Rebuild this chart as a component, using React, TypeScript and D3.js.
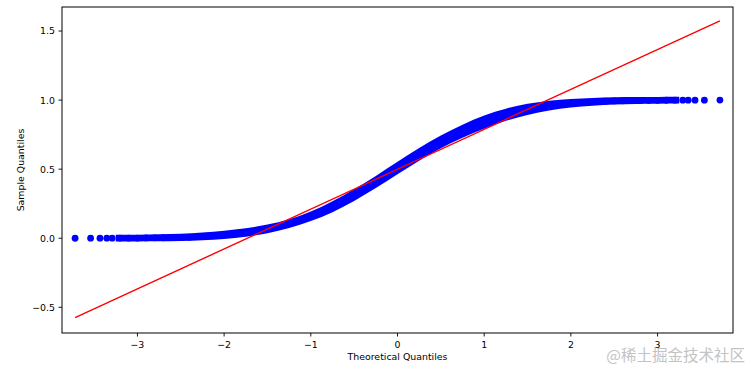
import React from "react";
import * as d3 from "d3";

// Theoretical quantiles (x) and sample quantiles (y) of the scatter points
const pointX = [
  -3.719, -3.54, -3.432, -3.353, -3.291,
  -3.2, -3.1, -3.0, -2.9, -2.8, -2.7, -2.6, -2.5, -2.4, -2.3, -2.2, -2.1, -2.0,
  -1.9, -1.8, -1.7, -1.6, -1.5, -1.4, -1.3, -1.2, -1.1, -1.0, -0.9, -0.8, -0.7,
  -0.6, -0.5, -0.4, -0.3, -0.2, -0.1, 0.0, 0.1, 0.2, 0.3, 0.4, 0.5, 0.6, 0.7,
  0.8, 0.9, 1.0, 1.1, 1.2, 1.3, 1.4, 1.5, 1.6, 1.7, 1.8, 1.9, 2.0, 2.1, 2.2,
  2.3, 2.4, 2.5, 2.6, 2.7, 2.8, 2.9, 3.0, 3.1, 3.2,
  3.291, 3.353, 3.432, 3.54, 3.719,
];
const pointY = [
  0.0001, 0.0002, 0.0003, 0.0004, 0.0005,
  0.001, 0.0012, 0.0015, 0.002, 0.0027, 0.0037, 0.005, 0.006, 0.008, 0.011, 0.015, 0.019, 0.025,
  0.031, 0.038, 0.047, 0.057, 0.068, 0.083, 0.098, 0.117, 0.137, 0.159, 0.184, 0.212, 0.243,
  0.276, 0.312, 0.35, 0.388, 0.428, 0.468, 0.508, 0.548, 0.588, 0.625, 0.661, 0.697, 0.729, 0.76,
  0.789, 0.816, 0.841, 0.864, 0.885, 0.903, 0.919, 0.933, 0.945, 0.955, 0.964, 0.971, 0.977, 0.982, 0.986,
  0.989, 0.992, 0.994, 0.995, 0.9965, 0.9974, 0.998, 0.9985, 0.999, 0.9993,
  0.9995, 0.9996, 0.9997, 0.9998, 0.9999,
];

// Extent of the dense cloud of overlapping markers
const bandX = [
  -3.25, -3.0, -2.75, -2.5, -2.25, -2.0, -1.75, -1.5, -1.25, -1.0, -0.75, -0.5, -0.25,
  0, 0.25, 0.5, 0.75, 1.0, 1.25, 1.5, 1.75, 2.0, 2.25, 2.5, 2.75, 3.0, 3.25,
];
const bandLow = [
  -0.0236, -0.0231, -0.022, -0.02, -0.015, -0.005, 0.0115, 0.037, 0.075, 0.125, 0.189, 0.27, 0.363,
  0.463, 0.561, 0.651, 0.728, 0.793, 0.85, 0.893, 0.924, 0.946, 0.96, 0.968, 0.972, 0.9739, 0.9748,
];
const bandHigh = [
  0.0256, 0.0261, 0.028, 0.032, 0.041, 0.055, 0.0725, 0.099, 0.137, 0.193, 0.267, 0.354, 0.451,
  0.553, 0.653, 0.743, 0.822, 0.889, 0.938, 0.973, 0.996, 1.008, 1.016, 1.02, 1.022, 1.0231, 1.024,
];

// Reference line of the Q-Q plot
const lineX = [-3.719, 3.719];
const lineY = [-0.574, 1.574];

const xTicks = [-3, -2, -1, 0, 1, 2, 3];
const yTicks = [-0.5, 0.0, 0.5, 1.0, 1.5];
const yTickLabels = ["−0.5", "0.0", "0.5", "1.0", "1.5"];
const xTickLabels = ["−3", "−2", "−1", "0", "1", "2", "3"];

const W = 750;
const H = 367;
const L = 62;
const R = 733;
const T = 7;
const B = 333;

export default function App() {
  const x = d3.scaleLinear().domain([-3.87, 3.87]).range([L, R]);
  const y = d3.scaleLinear().domain([-0.686, 1.674]).range([B, T]);

  const area = d3
    .area<number>()
    .x((_, i) => x(bandX[i]))
    .y0((_, i) => y(bandLow[i]))
    .y1((_, i) => y(bandHigh[i]))
    .curve(d3.curveMonotoneX);

  const line = d3
    .line<number>()
    .x((_, i) => x(lineX[i]))
    .y((_, i) => y(lineY[i]));

  const font = "'DejaVu Sans', sans-serif";
  const fs = 9.4;

  return (
    <div style={{ position: "fixed", left: 0, top: 0, width: W, height: H, background: "#fff" }}>
      <svg width={W} height={H} style={{ display: "block" }}>
        <rect x={0} y={0} width={W} height={H} fill="#fff" />
        <path d={area(bandX) || ""} fill="#0000ff" />
        {pointX.map((px, i) => (
          <circle key={i} cx={x(px)} cy={y(pointY[i])} r={3.4} fill="#0000ff" />
        ))}
        <path d={line(lineX) || ""} stroke="#ff0000" strokeWidth={1.4} fill="none" />
        <rect x={L} y={T} width={R - L} height={B - T} fill="none" stroke="#000" strokeWidth={1} />
        {xTicks.map((t, i) => (
          <g key={"x" + i}>
            <line x1={x(t)} x2={x(t)} y1={B} y2={B + 3.5} stroke="#000" strokeWidth={0.9} />
            <text
              x={x(t)}
              y={B + 14.5}
              textAnchor="middle"
              fontFamily={font}
              fontSize={fs}
              fill="#000"
            >
              {xTickLabels[i]}
            </text>
          </g>
        ))}
        {yTicks.map((t, i) => (
          <g key={"y" + i}>
            <line x1={L - 3.5} x2={L} y1={y(t)} y2={y(t)} stroke="#000" strokeWidth={0.9} />
            <text
              x={L - 7}
              y={y(t) + 3.4}
              textAnchor="end"
              fontFamily={font}
              fontSize={fs}
              fill="#000"
            >
              {yTickLabels[i]}
            </text>
          </g>
        ))}
        <text
          x={(L + R) / 2}
          y={360}
          textAnchor="middle"
          fontFamily={font}
          fontSize={fs}
          fill="#000"
        >
          Theoretical Quantiles
        </text>
        <text
          transform={`translate(${24},${(T + B) / 2}) rotate(-90)`}
          textAnchor="middle"
          fontFamily={font}
          fontSize={fs}
          fill="#000"
        >
          Sample Quantiles
        </text>
        <text
          x={745}
          y={361}
          textAnchor="end"
          fontFamily="'Noto Sans CJK SC', sans-serif"
          fontSize={15.5}
          fill="#c4c4c4"
        >
          @稀土掘金技术社区
        </text>
      </svg>
    </div>
  );
}
